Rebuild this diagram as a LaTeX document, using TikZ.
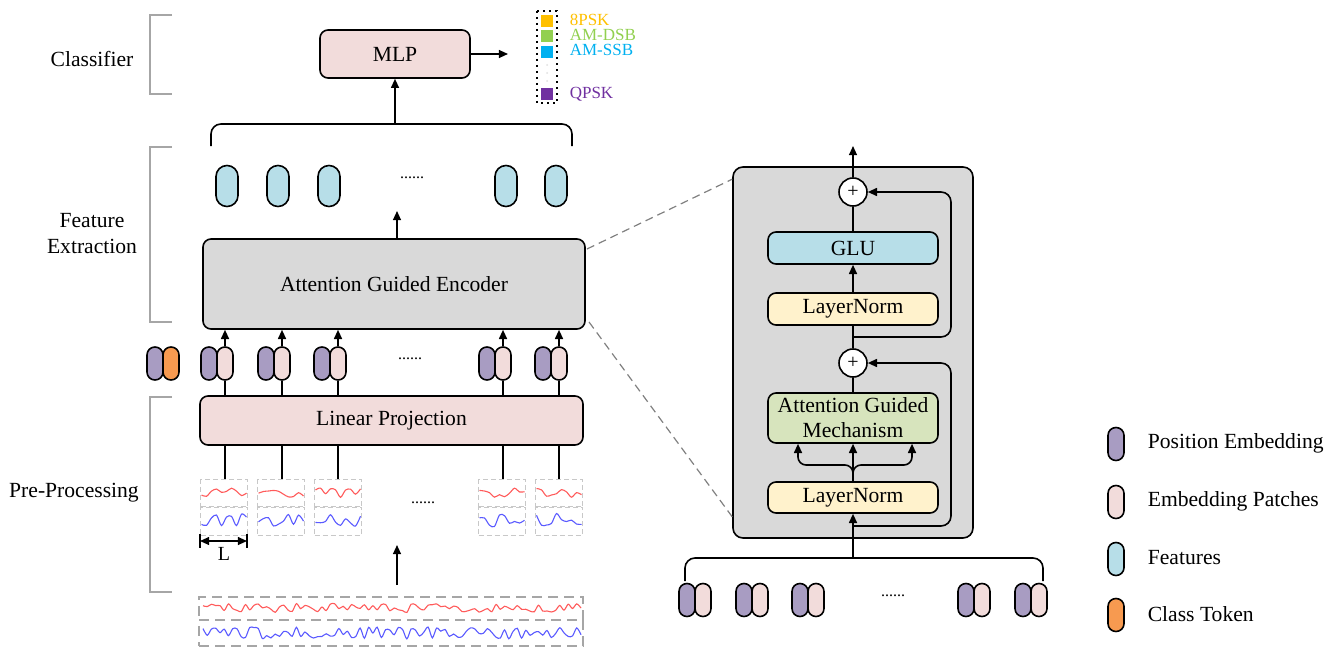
\documentclass[tikz,border=0pt]{standalone}
\usepackage{fontspec}
\setmainfont{Liberation Serif}
\usetikzlibrary{arrows.meta,calc}
\definecolor{cpink}{HTML}{F2DCDB}
\definecolor{cpurple}{HTML}{A89CC2}
\definecolor{cblue}{HTML}{B7DEE8}
\definecolor{corange}{HTML}{F79A50}
\definecolor{cgray}{HTML}{D9D9D9}
\definecolor{cyellow}{HTML}{FFF2CC}
\definecolor{cgreen}{HTML}{D7E4BD}
\definecolor{cbrk}{HTML}{A6A6A6}
\definecolor{cdash}{HTML}{C8C8C8}
\definecolor{cred}{HTML}{FF5A5A}
\definecolor{cbl}{HTML}{5A5AFF}
\definecolor{l8psk}{HTML}{FFC000}
\definecolor{ldsb}{HTML}{92D050}
\definecolor{lssb}{HTML}{00B0F0}
\definecolor{lqpsk}{HTML}{7030A0}
\newcommand{\wavepatch}[5]{%
  \pgfmathsetseed{#4}%
  \draw[#3, line width=0.55pt] plot[smooth, samples=10, domain=0:45] ({#1+1+\x},{#2+#5*rand});%
}
\begin{document}
\begin{tikzpicture}[x=0.5pt,y=-0.5pt,
  >={Triangle[length=4.6pt,width=4pt]},
  line width=0.8pt,
  txt/.style={font=\fontsize{10.8}{13}\selectfont, inner sep=0pt},
  box/.style={draw, rounded corners=4pt, font=\fontsize{10.8}{12.5}\selectfont, align=center, inner sep=0pt},
  pill/.style={draw, rounded corners=3.95pt, minimum width=8pt, minimum height=16.5pt, inner sep=0pt},
  feat/.style={draw, fill=cblue, rounded corners=5.45pt, minimum width=11pt, minimum height=20.5pt, inner sep=0pt},
  brk/.style={draw=cbrk, line width=0.9pt},
  patch/.style={draw=cdash, dashed, dash pattern=on 2.5pt off 1.5pt, line width=0.5pt, minimum width=23.5pt, inner sep=0pt},
  sig/.style={draw=cbrk, dashed, dash pattern=on 5pt off 3pt, line width=0.9pt, minimum width=192pt, inner sep=0pt},
  dots/.style={font=\fontsize{8}{9}\selectfont, inner sep=0pt},
  leg/.style={font=\fontsize{8.5}{9}\selectfont, anchor=west, inner sep=0pt},
  sq/.style={minimum width=6pt, minimum height=5.6pt, inner sep=0pt},
  zoomline/.style={draw=gray, dashed, dash pattern=on 4pt off 2.5pt, line width=0.6pt}
]
\useasboundingbox (0,0) rectangle (1327,647);

% ---------- left brackets and labels ----------
\draw[brk] (172,15) -- (150,15) -- (150,94) -- (172,94);
\draw[brk] (172,147) -- (150,147) -- (150,322) -- (172,322);
\draw[brk] (172,397) -- (150,397) -- (150,592) -- (172,592);
\node[txt] (tcls) at (92,59) {Classifier};
\node[txt, align=center] (tfe) at (92,234) {Feature\\Extraction};
\node[txt] (tpre) at (74,493) {Pre-Processing};

% ---------- classifier ----------
\node[box, fill=cpink, minimum width=75pt, minimum height=24pt] (mlp) at (395,54) {MLP};
\coordinate (outp) at (508,54);
\draw[->] (mlp.east) -- (outp);
\draw[dotted, line width=1pt] (537,11) rectangle (557,103);
\node[sq, fill=l8psk] (s1) at (547,21) {};
\node[sq, fill=ldsb] (s2) at (547,36) {};
\node[sq, fill=lssb] (s3) at (547,52) {};
\node[sq, fill=lqpsk] (s4) at (547,94) {};
\fill[gray!25] (547,65) circle (0.5pt) (547,73) circle (0.5pt) (547,81) circle (0.5pt);
\node[leg, text=l8psk] (t1) at (569,20) {8PSK};
\node[leg, text=ldsb] (t2) at (569,35) {AM-DSB};
\node[leg, text=lssb] (t3) at (569,50) {AM-SSB};
\node[leg, text=lqpsk] (t4) at (569,94) {QPSK};

% ---------- features ----------
\coordinate (bl) at (211,146);
\coordinate (br) at (572,146);
\coordinate (bm) at (395,124);
\draw[rounded corners=5pt] (bl) |- (bm) -| (br);
\draw[->] (bm) -- (mlp.south);
\foreach \n/\px in {1/227,2/278,3/329,4/506,5/556}{
  \node[feat] (f\n) at (\px,186) {};
}
\node[dots] (fdots) at (412,178) {......};

\node[box, fill=cgray, minimum width=191pt, minimum height=45pt] (enc) at (394,284) {Attention Guided Encoder};
\coordinate (ftop) at (397,211);
\draw[->] (enc.north -| ftop) -- (ftop);

% ---------- embeddings ----------
\node[pill, fill=cpurple] (cp) at (155,363.5) {};
\node[pill, fill=corange] (ct) at (171,363.5) {};
\foreach \n/\px in {1/209,2/266,3/322,4/487,5/543}{
  \node[pill, fill=cpurple] (pp\n) at (\px,363.5) {};
  \node[pill, fill=cpink] (pe\n) at (\px+16,363.5) {};
}
\node[dots] (edots) at (410,359) {......};

\node[box, fill=cpink, minimum width=191.5pt, minimum height=24.5pt] (lp) at (391.5,420.5) {Linear Projection};
\foreach \n in {1,...,5}{
  \draw[->] (pe\n.north) -- (pe\n.north |- enc.south);
  \draw (pe\n.south) -- (pe\n.south |- lp.north);
}

% ---------- patches ----------
\foreach \n/\px/\s in {1/224/3,2/281/11,3/338/17,4/502/23,5/559/31}{
  \node[patch, minimum height=13.5pt] (pr\n) at (\px,493) {};
  \node[patch, minimum height=14pt] (pb\n) at (\px,521) {};
  \pgfmathsetmacro{\xl}{\px-23.5}
  \pgfmathtruncatemacro{\sb}{\s+5}
  \wavepatch{\xl}{493}{cred}{\s}{5}
  \wavepatch{\xl}{520}{cbl}{\sb}{7}
}
\foreach \n in {1,...,5}{
  \draw (lp.south -| pe\n) -- (pe\n |- pr\n.north);
}
\node[dots] (pdots) at (423,503) {......};
\coordinate (la) at (200,541);
\coordinate (lb) at (247,541);
\draw[line width=0.7pt] (200,534) -- (200,548) (247,534) -- (247,548);
\draw[<->, line width=0.7pt] (la) -- (lb);
\node[txt, font=\fontsize{10}{12}\selectfont] (lL) at (224,554) {L};

% ---------- raw signal ----------
\node[sig, minimum height=11.5pt] (sigr) at (391,608.5) {};
\node[sig, minimum height=13pt] (sigb) at (391,633) {};
\pgfmathsetseed{101}
\draw[cred, line width=0.55pt] plot[smooth, samples=90, domain=0:378] ({203+\x},{608+4.5*rand});
\pgfmathsetseed{202}
\draw[cbl, line width=0.55pt] plot[smooth, samples=90, domain=0:378] ({203+\x},{633+6*rand});
\coordinate (sa) at (397,585);
\coordinate (sb) at (397,545);
\draw[->] (sa) -- (sb);

% ---------- encoder detail ----------
\node[draw, fill=cgray, rounded corners=5pt, minimum width=120pt, minimum height=185.5pt, inner sep=0pt] (age) at (853,352.5) {};
\coordinate (z1) at (587,249);
\coordinate (z2) at (589,322);
\draw[zoomline] (z1) -- ($(age.north west)+(0,13)$);
\draw[zoomline] (z2) -- ($(age.south west)+(0,-22)$);

\node[draw, fill=white, circle, minimum size=14pt, inner sep=0pt] (c1) at (853,192) {};
\node[draw, fill=white, circle, minimum size=14pt, inner sep=0pt] (c2) at (853,363) {};
\node[font=\fontsize{10}{10}\selectfont, inner sep=0pt] at (c1) {+};
\node[font=\fontsize{10}{10}\selectfont, inner sep=0pt] at (c2) {+};
\node[box, fill=cblue, minimum width=85pt, minimum height=16pt] (glu) at (853,248) {GLU};
\node[box, fill=cyellow, minimum width=85pt, minimum height=16pt] (ln1) at (853,309) {LayerNorm};
\node[box, fill=cgreen, minimum width=85pt, minimum height=25pt] (agm) at (853,418) {Attention Guided\\Mechanism};
\node[box, fill=cyellow, minimum width=85pt, minimum height=15.5pt] (ln2) at (853,497.5) {LayerNorm};

\coordinate (otop) at (853,146);
\draw[->] (c1.north) -- (otop);
\draw (glu.north) -- (c1.south);
\draw[->] (ln1.north) -- (glu.south);
\draw (c2.north) -- (ln1.south);
\draw (agm.north) -- (c2.south);

\coordinate (s1a) at (853,337);
\coordinate (s1b) at (951,337);
\draw[->, rounded corners=5pt] (s1a) -- (s1b) |- (c1.east);
\coordinate (s2a) at (853,526);
\coordinate (s2b) at (951,526);
\draw[->, rounded corners=5pt] (s2a) -- (s2b) |- (c2.east);

\coordinate (sp) at (853,465);
\draw[->, rounded corners=4pt] (ln2.north) -- (sp) -| ($(agm.south)+(-55,0)$);
\draw[->, rounded corners=4pt] (ln2.north) -- (sp) -| ($(agm.south)+(59,0)$);
\draw[->] (ln2.north) -- (agm.south);

% ---------- input tokens right ----------
\foreach \n/\px in {1/687,2/744,3/800,4/966,5/1023}{
  \node[pill, fill=cpurple] (rp\n) at (\px,600) {};
  \node[pill, fill=cpink] (re\n) at (\px+16,600) {};
}
\node[dots] (rdots) at (893,596) {......};
\coordinate (rbl) at (685,581);
\coordinate (rbr) at (1043,581);
\coordinate (rbm) at (853,558);
\draw[rounded corners=5pt] (rbl) |- (rbm) -| (rbr);
\draw[->] (rbm) -- (ln2.south);

% ---------- legend ----------
\node[pill, fill=cpurple] (lg1) at (1116,444) {};
\node[pill, fill=cpink] (lg2) at (1116,502) {};
\node[pill, fill=cblue] (lg3) at (1116,559) {};
\node[pill, fill=corange] (lg4) at (1116,615) {};
\node[txt, anchor=west] (lt1) at (1147,443) {Position Embedding};
\node[txt, anchor=west] (lt2) at (1147,501) {Embedding Patches};
\node[txt, anchor=west] (lt3) at (1147,558) {Features};
\node[txt, anchor=west] (lt4) at (1147,614) {Class Token};
\end{tikzpicture}
\end{document}
